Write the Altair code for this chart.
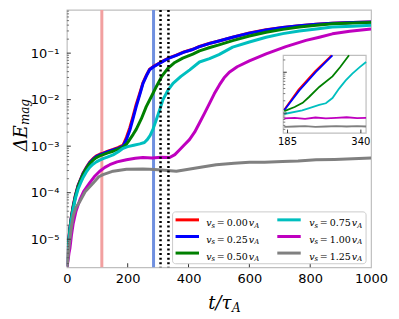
import altair as alt
import pandas as pd

# ---------------- data ----------------
series_names = ["0.00", "0.25", "0.50", "0.75", "1.00", "1.25"]
series_colors = ["#ff0000", "#0000ff", "#008000", "#00bfbf", "#bf00bf", "#808080"]

red_t = [0, 3, 6, 10, 15, 21, 28, 37, 45, 54, 64, 75, 86, 97, 108, 119, 135, 152, 168, 185, 196, 207, 218, 228, 240, 250, 262, 272, 285, 300, 320, 338, 360, 385, 414, 436, 470, 500, 545, 600, 655, 710, 764, 820, 873, 940, 1000]
red_v = [2.6e-6, 4.6e-6, 9.2e-6, 1.75e-5, 3.1e-5, 5.3e-5, 8.8e-5, 1.45e-4, 1.95e-4, 2.7e-4, 3.5e-4, 4.5e-4, 5.4e-4, 6.2e-4, 6.7e-4, 7.1e-4, 7.8e-4, 8.5e-4, 9.3e-4, 1.05e-3, 1.55e-3, 2.5e-3, 4.5e-3, 7.9e-3, 1.4e-2, 2.3e-2, 3.4e-2, 4.5e-2, 5.2e-2, 5.9e-2, 7.0e-2, 8.0e-2, 9.1e-2, 1.06e-1, 1.21e-1, 1.39e-1, 1.63e-1, 1.83e-1, 2.2e-1, 2.7e-1, 3.17e-1, 3.56e-1, 3.9e-1, 4.18e-1, 4.38e-1, 4.58e-1, 4.69e-1]

blue_t = [0, 3, 6, 10, 15, 21, 28, 37, 45, 54, 64, 75, 86, 97, 108, 119, 135, 152, 168, 185, 196, 207, 218, 228, 240, 250, 262, 272, 285, 300, 320, 338, 360, 385, 414, 436, 470, 500, 545, 600, 655, 710, 764, 820, 873, 940, 1000]
blue_v = [2.6e-6, 4.5e-6, 9.0e-6, 1.7e-5, 3.0e-5, 5.1e-5, 8.5e-5, 1.4e-4, 1.9e-4, 2.6e-4, 3.4e-4, 4.4e-4, 5.2e-4, 6.0e-4, 6.5e-4, 6.9e-4, 7.6e-4, 8.3e-4, 9.0e-4, 1.0e-3, 1.4e-3, 2.2e-3, 4.0e-3, 7.1e-3, 1.3e-2, 2.2e-2, 3.3e-2, 4.4e-2, 5.1e-2, 5.8e-2, 6.9e-2, 7.9e-2, 9.0e-2, 1.05e-1, 1.2e-1, 1.38e-1, 1.62e-1, 1.82e-1, 2.19e-1, 2.69e-1, 3.16e-1, 3.55e-1, 3.89e-1, 4.17e-1, 4.37e-1, 4.57e-1, 4.68e-1]

green_t = [0, 3, 6, 10, 15, 21, 28, 37, 45, 54, 64, 75, 86, 97, 108, 119, 135, 152, 168, 185, 196, 207, 218, 228, 245, 261, 278, 294, 312, 332, 355, 381, 414, 436, 470, 500, 545, 600, 655, 710, 764, 820, 873, 940, 1000]
green_v = [2.6e-6, 4.3e-6, 8.5e-6, 1.6e-5, 2.9e-5, 4.9e-5, 8.2e-5, 1.35e-4, 1.85e-4, 2.5e-4, 3.3e-4, 4.2e-4, 5.0e-4, 5.7e-4, 6.2e-4, 6.6e-4, 7.2e-4, 7.8e-4, 8.6e-4, 9.6e-4, 1.1e-3, 1.4e-3, 1.8e-3, 2.3e-3, 3.9e-3, 7.1e-3, 1.17e-2, 1.9e-2, 3.16e-2, 4.7e-2, 6.3e-2, 7.8e-2, 9.5e-2, 1.12e-1, 1.32e-1, 1.51e-1, 1.86e-1, 2.34e-1, 2.82e-1, 3.24e-1, 3.63e-1, 3.98e-1, 4.27e-1, 4.47e-1, 4.57e-1]

cyan_t = [0, 3, 6, 10, 15, 21, 28, 37, 45, 54, 64, 75, 86, 97, 108, 119, 135, 152, 168, 185, 200, 220, 240, 255, 265, 274, 283, 294, 305, 316, 332, 349, 375, 404, 436, 469, 500, 545, 600, 655, 710, 764, 820, 873, 940, 1000]
cyan_v = [2.6e-6, 4.0e-6, 8.0e-6, 1.5e-5, 2.7e-5, 4.5e-5, 7.5e-5, 1.2e-4, 1.6e-4, 2.15e-4, 2.8e-4, 3.5e-4, 4.1e-4, 4.6e-4, 5.0e-4, 5.4e-4, 5.9e-4, 6.5e-4, 7.5e-4, 9.0e-4, 9.8e-4, 1.05e-3, 1.12e-3, 1.2e-3, 1.4e-3, 1.7e-3, 2.3e-3, 3.7e-3, 6.0e-3, 1.0e-2, 1.58e-2, 2.24e-2, 3.16e-2, 4.37e-2, 6.46e-2, 7.6e-2, 9.3e-2, 1.35e-1, 1.74e-1, 2.19e-1, 2.63e-1, 3.0e-1, 3.31e-1, 3.63e-1, 3.8e-1, 3.98e-1]

magenta_t = [0, 4, 7, 10, 15, 21, 30, 43, 55, 75, 90, 108, 125, 141, 165, 196, 225, 250, 280, 310, 338, 355, 370, 385, 403, 420, 436, 452, 469, 485, 502, 517, 534, 560, 600, 655, 720, 786, 830, 873, 930, 1000]
magenta_v = [2.5e-6, 3.5e-6, 5.0e-6, 6.3e-6, 1.2e-5, 2.2e-5, 4.0e-5, 7.1e-5, 1.05e-4, 1.62e-4, 2.2e-4, 2.9e-4, 3.5e-4, 4.0e-4, 4.6e-4, 5.1e-4, 5.5e-4, 5.7e-4, 5.6e-4, 5.8e-4, 5.7e-4, 6.6e-4, 8.3e-4, 1.05e-3, 1.38e-3, 2.0e-3, 3.16e-3, 5.0e-3, 8.3e-3, 1.35e-2, 2.1e-2, 2.95e-2, 3.9e-2, 5.1e-2, 6.8e-2, 9.6e-2, 1.38e-1, 1.88e-1, 2.2e-1, 2.6e-1, 2.95e-1, 3.3e-1]

gray_t = [0, 3, 6, 10, 15, 21, 30, 43, 60, 86, 105, 119, 152, 196, 250, 272, 300, 330, 360, 400, 450, 491, 550, 600, 650, 709, 760, 819, 880, 940, 1000]
gray_v = [2.5e-6, 3.5e-6, 6.0e-6, 1.0e-5, 1.8e-5, 3.2e-5, 4.8e-5, 6.5e-5, 1.05e-4, 1.6e-4, 2.2e-4, 2.45e-4, 2.9e-4, 3.2e-4, 3.25e-4, 3.2e-4, 3.1e-4, 3.0e-4, 2.9e-4, 3.2e-4, 3.6e-4, 4.0e-4, 4.3e-4, 4.5e-4, 4.5e-4, 4.7e-4, 4.8e-4, 5.1e-4, 5.2e-4, 5.4e-4, 5.6e-4]

# inset (zoom on t = 185..340)
in_red_t = [178, 208, 243, 278]
in_red_v = [1.2e-3, 3.7e-3, 1.05e-2, 2.6e-2]
in_blue_t = [178, 210, 245, 280]
in_blue_v = [1.17e-3, 3.6e-3, 1.02e-2, 2.6e-2]
in_green_t = [178, 200, 217, 231, 252, 280, 296, 315]
in_green_v = [1.12e-3, 1.41e-3, 1.78e-3, 2.51e-3, 4.37e-3, 7.9e-3, 1.32e-2, 2.6e-2]
in_cyan_t = [178, 216, 231, 252, 266, 280, 294, 308, 322, 337, 351]
in_cyan_v = [9.5e-4, 1.17e-3, 1.32e-3, 1.58e-3, 1.74e-3, 2.34e-3, 3.98e-3, 6.3e-3, 9.3e-3, 1.32e-2, 1.78e-2]
in_magenta_t = [178, 200, 222, 244, 266, 288, 310, 332, 351]
in_magenta_v = [7.4e-4, 7.6e-4, 7.2e-4, 7.8e-4, 7.4e-4, 7.6e-4, 7.9e-4, 7.5e-4, 7.6e-4]
in_gray_t = [178, 200, 222, 244, 266, 288, 310, 332, 351]
in_gray_v = [4.6e-4, 4.7e-4, 4.8e-4, 4.6e-4, 4.7e-4, 4.8e-4, 4.7e-4, 4.8e-4, 4.7e-4]

marker_t = [115, 285]
marker_colors = ["#f2a0a0", "#7090e0"]
dotted_t = [308, 334]

x_ticks = [0, 200, 400, 600, 800, 1000]
y_ticks = [1e-5, 1e-4, 1e-3, 1e-2, 1e-1]
inset_x_ticks = [185, 340]

# ---------------- layout ----------------
W, H = 305, 258
x_dom = [0, 1000]
y_dom = [2.5e-6, 0.85]
in_x_dom = [176, 351]
in_y_dom = [3.24e-4, 2.6e-2]
in_x_rng = [217, 300]
in_y_rng = [123.5, 45.5]

xs = alt.Scale(domain=x_dom, nice=False, zero=False)
ys = alt.Scale(type="log", domain=y_dom, nice=False)
ixs = alt.Scale(domain=in_x_dom, range=in_x_rng, nice=False, zero=False)
iys = alt.Scale(type="log", domain=in_y_dom, range=in_y_rng, nice=False)

sup = "['⁰','⁻¹','⁻²','⁻³','⁻⁴','⁻⁵','⁻⁶']"
x_axis = alt.Axis(values=x_ticks, format="d", title=None, ticks=False, domain=False, grid=False,
                  labelFont="DejaVu Sans", labelFontSize=13, labelColor="#000", labelPadding=5,
                  labelFlush=False)
y_axis = alt.Axis(values=y_ticks, title=None, ticks=False, domain=False, grid=False,
                  labelExpr="'10' + " + sup + "[round(-log(datum.value)/LN10)]",
                  labelFont="DejaVu Sans", labelFontSize=13, labelColor="#000", labelPadding=8,
                  labelFlush=False)

layers = []

# coloured vertical markers
mk = pd.DataFrame({"t": marker_t, "c": marker_colors})
layers.append(alt.Chart(mk).mark_rule(strokeWidth=3).encode(
    x=alt.X("t:Q", scale=xs, axis=None), color=alt.Color("c:N", scale=None)))

main_series = [(red_t, red_v), (blue_t, blue_v), (green_t, green_v),
               (cyan_t, cyan_v), (magenta_t, magenta_v), (gray_t, gray_v)]
for i, (tt, vv) in enumerate(main_series):
    df = pd.DataFrame({"t": tt, "v": vv})
    layers.append(alt.Chart(df).mark_line(strokeWidth=3, strokeJoin="round", clip=True,
                                          color=series_colors[i]).encode(
        x=alt.X("t:Q", scale=xs, axis=x_axis if i == 0 else None),
        y=alt.Y("v:Q", scale=ys, axis=y_axis if i == 0 else None)))

# dotted black markers
dt = pd.DataFrame({"t": dotted_t})
layers.append(alt.Chart(dt).mark_rule(strokeWidth=2.5, color="#000", strokeDash=[2, 2.6]).encode(
    x=alt.X("t:Q", scale=xs, axis=None)))

# inward ticks, main axes
minor_y = [m * 10.0 ** k for k in range(-6, 0) for m in range(2, 10) if y_dom[0] <= m * 10.0 ** k <= y_dom[1]]
layers.append(alt.Chart(pd.DataFrame({"v": y_ticks})).mark_rule(color="#333", strokeWidth=1).encode(
    y=alt.Y("v:Q", scale=ys, axis=None), x=alt.value(0), x2=alt.value(4)))
layers.append(alt.Chart(pd.DataFrame({"v": minor_y})).mark_rule(color="#555", strokeWidth=0.8).encode(
    y=alt.Y("v:Q", scale=ys, axis=None), x=alt.value(0), x2=alt.value(2.2)))
layers.append(alt.Chart(pd.DataFrame({"t": x_ticks[1:-1]})).mark_rule(color="#333", strokeWidth=1).encode(
    x=alt.X("t:Q", scale=xs, axis=None), y=alt.value(H - 4), y2=alt.value(H)))

# ---------------- inset ----------------
frame = pd.DataFrame({"x0": [in_x_dom[0]], "x1": [in_x_dom[1]], "y0": [in_y_dom[0]], "y1": [in_y_dom[1]]})
layers.append(alt.Chart(frame).mark_rect(fill="white", stroke="#bfbfbf", strokeWidth=1.2).encode(
    x=alt.X("x0:Q", scale=ixs, axis=None), x2="x1:Q",
    y=alt.Y("y0:Q", scale=iys, axis=None), y2="y1:Q"))
inset_series = [(in_red_t, in_red_v), (in_blue_t, in_blue_v), (in_green_t, in_green_v),
                (in_cyan_t, in_cyan_v), (in_magenta_t, in_magenta_v), (in_gray_t, in_gray_v)]
for i, (tt, vv) in enumerate(inset_series):
    df = pd.DataFrame({"t": tt, "v": vv})
    layers.append(alt.Chart(df).mark_line(strokeWidth=1.8, color=series_colors[i]).encode(
        x=alt.X("t:Q", scale=ixs, axis=None), y=alt.Y("v:Q", scale=iys, axis=None)))
in_major = [1e-3, 1e-2]
in_minor = [m * 10.0 ** k for k in range(-4, -1) for m in range(2, 10) if in_y_dom[0] <= m * 10.0 ** k <= in_y_dom[1]]
layers.append(alt.Chart(pd.DataFrame({"v": in_major})).mark_rule(color="#333", strokeWidth=1).encode(
    y=alt.Y("v:Q", scale=iys, axis=None), x=alt.value(in_x_rng[0]), x2=alt.value(in_x_rng[0] + 3.5)))
layers.append(alt.Chart(pd.DataFrame({"v": in_minor})).mark_rule(color="#555", strokeWidth=0.8).encode(
    y=alt.Y("v:Q", scale=iys, axis=None), x=alt.value(in_x_rng[0]), x2=alt.value(in_x_rng[0] + 2)))
itk = pd.DataFrame({"t": inset_x_ticks, "lab": [str(v) for v in inset_x_ticks]})
layers.append(alt.Chart(itk).mark_rule(color="#333", strokeWidth=1).encode(
    x=alt.X("t:Q", scale=ixs, axis=None), y=alt.value(in_y_rng[0] - 3.5), y2=alt.value(in_y_rng[0])))
layers.append(alt.Chart(itk).mark_text(font="DejaVu Sans", fontSize=10, baseline="top", color="#000").encode(
    x=alt.X("t:Q", scale=ixs, axis=None), y=alt.value(in_y_rng[0] + 3.5), text="lab:N"))

# ---------------- legend (two columns, filled column-wise) ----------------
box = dict(x0=106, x1=300, y0=202.5, y1=254.5)
row_y = [210.5, 227.2, 243.8]
col_sym = [109, 211]
col_txt = [139.7, 243]
sym_len = 23.5
rows = []
for i, name in enumerate(series_names):
    c, r = divmod(i, 3)
    rows.append({"name": name, "color": series_colors[i],
                 "sx0": col_sym[c], "sx1": col_sym[c] + sym_len, "yc": row_y[r],
                 "tx": col_txt[c], "yb": row_y[r] + 3.5, "ys": row_y[r] + 5.8})
leg = pd.DataFrame(rows)
leg["sx"] = leg["tx"] + 5.4
leg["qx"] = leg["tx"] + 10.5
leg["nx"] = leg["tx"] + 41.8
leg["vx"] = leg["tx"] + 42.6
leg["ax"] = leg["tx"] + 48.2

layers.append(alt.Chart(pd.DataFrame({"a": [0]})).mark_rect(
    fill="white", fillOpacity=0.85, stroke="#cccccc", strokeWidth=1, cornerRadius=3).encode(
    x=alt.value(box["x0"]), x2=alt.value(box["x1"]), y=alt.value(box["y0"]), y2=alt.value(box["y1"])))
layers.append(alt.Chart(leg).mark_rule(strokeWidth=3).encode(
    x=alt.X("sx0:Q", scale=None), x2="sx1:Q", y=alt.Y("yc:Q", scale=None),
    color=alt.Color("color:N", scale=None)))
serif = "DejaVu Serif"
layers.append(alt.Chart(leg).mark_text(font=serif, fontStyle="italic", fontSize=9.5, align="left",
                                       color="#000", text="v").encode(
    x=alt.X("tx:Q", scale=None), y=alt.Y("yb:Q", scale=None)))
layers.append(alt.Chart(leg).mark_text(font=serif, fontStyle="italic", fontSize=7, align="left",
                                       color="#000", text="s").encode(
    x=alt.X("sx:Q", scale=None), y=alt.Y("ys:Q", scale=None)))
layers.append(alt.Chart(leg).mark_text(font=serif, fontSize=9.5, align="left",
                                       color="#000", text="=").encode(
    x=alt.X("qx:Q", scale=None), y=alt.Y("yb:Q", scale=None)))
layers.append(alt.Chart(leg).mark_text(font=serif, fontSize=9.5, align="right", color="#000").encode(
    x=alt.X("nx:Q", scale=None), y=alt.Y("yb:Q", scale=None), text="name:N"))
layers.append(alt.Chart(leg).mark_text(font=serif, fontStyle="italic", fontSize=9.5, align="left",
                                       color="#000", text="v").encode(
    x=alt.X("vx:Q", scale=None), y=alt.Y("yb:Q", scale=None)))
layers.append(alt.Chart(leg).mark_text(font=serif, fontStyle="italic", fontSize=7, align="left",
                                       color="#000", text="A").encode(
    x=alt.X("ax:Q", scale=None), y=alt.Y("ys:Q", scale=None)))

# ---------------- axis titles (with subscripts) ----------------
one = pd.DataFrame({"a": [0]})
layers.append(alt.Chart(one).mark_text(font=serif, fontStyle="italic", fontSize=18, align="right",
                                       color="#000", text="t/τ").encode(
    x=alt.value(165), y=alt.value(295)))
layers.append(alt.Chart(one).mark_text(font=serif, fontStyle="italic", fontSize=12, align="left",
                                       color="#000", text="A").encode(
    x=alt.value(165.5), y=alt.value(298.5)))
layers.append(alt.Chart(one).mark_text(font=serif, fontStyle="italic", fontSize=18, align="right",
                                       angle=270, color="#000", text="ΔE").encode(
    x=alt.value(-45), y=alt.value(115.5)))
layers.append(alt.Chart(one).mark_text(font=serif, fontStyle="italic", fontSize=12, align="left",
                                       angle=270, color="#000", text="mag").encode(
    x=alt.value(-41.5), y=alt.value(115.5)))

chart = alt.layer(*layers).resolve_scale(
    x="independent", y="independent", color="independent"
).properties(
    width=W, height=H,
    autosize=alt.AutoSizeParams(type="none"),
    padding={"left": 59, "top": 1.5, "right": 20, "bottom": 55},
).configure_view(stroke="#bfbfbf", strokeWidth=1.2)

chart.save("out.html", embed_options={"renderer": "svg", "actions": False})
